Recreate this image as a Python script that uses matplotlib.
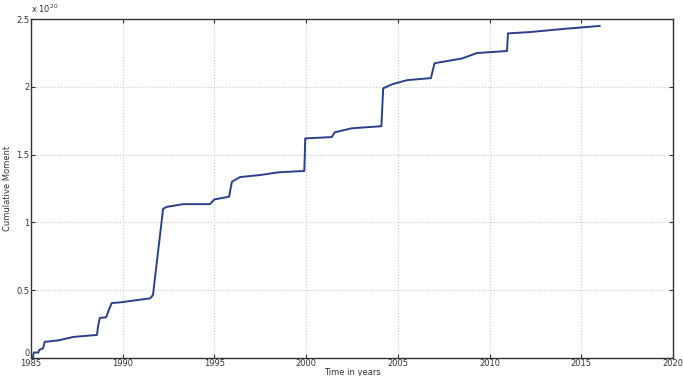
import matplotlib.pyplot as plt

# cumulative moment, units of 1e20
years = [1985.0, 1985.1, 1985.15, 1985.4, 1985.45, 1985.65, 1985.75, 1985.85,
         1986.5, 1987.3, 1988.6, 1988.65, 1988.75, 1989.1, 1989.2, 1989.4,
         1989.85, 1991.5, 1991.65, 1992.2, 1992.4, 1993.3, 1994.75, 1995.0,
         1995.8, 1995.95, 1996.4, 1997.5, 1998.5, 1999.9, 1999.95, 2001.4,
         2001.55, 2002.5, 2004.1, 2004.2, 2004.7, 2005.5, 2006.8, 2007.0,
         2008.5, 2009.3, 2010.95, 2011.0, 2012.2, 2014.2, 2016.0]
moment = [0.0, 0.0, 0.04, 0.04, 0.06, 0.07, 0.12, 0.12,
          0.13, 0.155, 0.17, 0.23, 0.295, 0.30, 0.34, 0.405,
          0.41, 0.44, 0.465, 1.10, 1.115, 1.135, 1.135, 1.17,
          1.19, 1.30, 1.335, 1.35, 1.37, 1.38, 1.62, 1.63,
          1.665, 1.695, 1.71, 1.99, 2.02, 2.05, 2.065, 2.175,
          2.21, 2.25, 2.265, 2.395, 2.405, 2.43, 2.45]

xticks = [1985, 1990, 1995, 2000, 2005, 2010, 2015, 2020]
yticks = [0, 0.5, 1, 1.5, 2, 2.5]
ytick_labels = ["0", "0.5", "1", "1.5", "2", "2.5"]

fig = plt.figure(figsize=(6.83, 3.76), dpi=100)
ax = fig.add_axes([0.0454, 0.048, 0.940, 0.901])

ax.plot(years, moment, color="#2b3f8c", linewidth=1.4)

ax.set_xlim(1985, 2020)
ax.set_ylim(0, 2.5)
ax.set_xticks(xticks)
ax.set_yticks(yticks)
ax.set_yticklabels(ytick_labels)
ax.tick_params(direction="in", labelsize=6, length=3, top=True, right=True,
               color="#333333", labelcolor="#333333", pad=1)
# lift the "0" so it sits above the 1985 label like the original
ax.get_yticklabels()[0].set_va("bottom")
ax.grid(True, linestyle=":", color="#c8c8c8", linewidth=0.8)
for s in ax.spines.values():
    s.set_color("#333333")
    s.set_linewidth(1.0)

ax.set_xlabel("Time in years", fontsize=6, color="#333333", labelpad=0)
ax.set_ylabel("Cumulative Moment", fontsize=6, color="#333333", labelpad=3)
ax.text(0.0, 1.012, r"x 10$^{20}$", transform=ax.transAxes, fontsize=6,
        color="#333333", va="bottom", ha="left")

fig.savefig("out.png", dpi=100)
